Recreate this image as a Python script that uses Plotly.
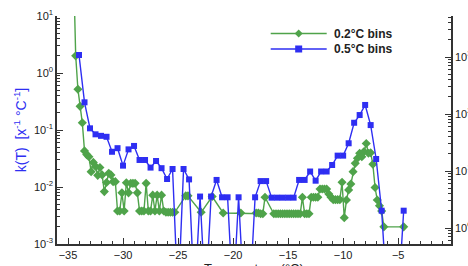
import numpy as np
import plotly.graph_objects as go

# 0.5 degC bins (blue squares); empty bins are drawn at a floor value below the axis
blue_T = [-34.0, -33.5, -33.0, -32.5, -32.0, -31.5, -31.0, -30.5, -30.0, -29.5,
          -29.0, -28.5, -28.0, -27.5, -27.0, -26.5, -26.0, -25.5, -25.0, -24.5,
          -24.0, -23.5, -23.0, -22.5, -22.0, -21.5, -21.0, -20.5, -20.0, -19.5,
          -19.0, -18.5, -18.0, -17.5, -17.0, -16.5, -16.0, -15.5, -15.0, -14.5,
          -14.0, -13.5, -13.0, -12.5, -12.0, -11.5, -11.0, -10.5, -10.0, -9.5,
          -9.0, -8.5, -8.0, -7.5, -7.0, -6.5, -6.0, -5.5, -5.0, -4.5]
blue_k = [2.07, 0.306, 0.107, 0.084, 0.079, 0.076, 0.0415, 0.048, 0.0237, 0.0457,
          0.0525, 0.0298, 0.0298, 0.0219, 0.0286, 0.0214, 0.0138, 0.0207, 1e-4, 0.0207,
          0.0136, 1e-4, 0.0068, 1e-4, 0.0068, 0.0133, 0.0066, 0.0066, 1e-4, 0.0066,
          1e-4, 1e-4, 0.0066, 0.0127, 0.0127, 0.0065, 0.0065, 0.0065, 0.0065, 0.0065,
          0.0133, 0.0133, 0.0187, 0.0129, 0.0187, 0.0187, 0.0243, 0.0355, 0.0355, 0.0585,
          0.134, 0.183, 0.275, 0.122, 0.031, 0.00384, 1e-4, 1e-4, 1e-4, 0.00384]

# 0.2 degC bins (green diamonds); empty bins omitted
green_T = [-34.5, -34.3, -34.1, -33.9, -33.7, -33.5, -33.3, -33.1, -32.9, -32.7,
           -32.5, -32.3, -32.1, -31.9, -31.7, -31.5, -31.3, -31.1, -30.9, -30.7,
           -30.5, -30.3, -30.1, -29.9, -29.7, -29.5, -29.3, -29.1, -28.9, -28.7,
           -28.5, -28.3, -28.1, -27.9, -27.7, -27.5, -27.3, -27.1, -26.9, -26.7,
           -26.5, -26.3, -26.1, -25.9, -25.7, -25.5, -25.3, -24.3, -24.1, -22.9,
           -21.9, -20.9, -19.3, -17.9, -17.7, -17.5, -17.3, -17.1, -16.3, -16.1,
           -15.9, -15.7, -15.5, -15.3, -15.1, -14.9, -14.7, -14.5, -14.3, -14.1,
           -13.9, -13.7, -13.5, -13.3, -13.1, -12.9, -12.7, -12.5, -12.3, -12.1,
           -11.9, -11.7, -11.5, -11.3, -11.1, -10.9, -10.7, -10.5, -10.3, -10.1,
           -9.9, -9.7, -9.5, -9.3, -9.1, -8.9, -8.7, -8.5, -8.3, -8.1,
           -7.9, -7.7, -7.5, -7.3, -7.1, -6.9, -6.7, -6.5, -6.3, -4.5]
green_k = [70, 2.0, 0.52, 0.26, 0.134, 0.043, 0.037, 0.034, 0.0186, 0.027,
           0.023, 0.016, 0.022, 0.0163, 0.0083, 0.012, 0.0174, 0.0163, 0.0124, 0.0124,
           0.0038, 0.0038, 0.0079, 0.0038, 0.0119, 0.0079, 0.0116, 0.0116, 0.0116, 0.0079,
           0.0038, 0.0038, 0.0038, 0.0116, 0.0038, 0.0038, 0.0072, 0.0038, 0.0072, 0.0038,
           0.0072, 0.0038, 0.0036, 0.0036, 0.0036, 0.0036, 0.0036, 0.0070, 0.0070, 0.0036,
           0.0068, 0.0035, 0.0035, 0.0035, 0.0035, 0.0034, 0.0034, 0.0066, 0.0034, 0.0034,
           0.0034, 0.0034, 0.0034, 0.0034, 0.0034, 0.0034, 0.0034, 0.0034, 0.0034, 0.0034,
           0.0034, 0.0066, 0.0034, 0.0034, 0.0034, 0.0066, 0.0066, 0.0066, 0.0066, 0.0092,
           0.0092, 0.0092, 0.0092, 0.0075, 0.0066, 0.0060, 0.0060, 0.0060, 0.0060, 0.0121,
           0.0029, 0.0059, 0.0089, 0.0113, 0.0186, 0.026, 0.032, 0.039, 0.034, 0.042,
           0.058, 0.039, 0.040, 0.025, 0.0098, 0.0059, 0.0047, 0.0038, 0.0020, 0.0020]

x_ticks = [-35, -30, -25, -20, -15, -10, -5]
left_exp = [-3, -2, -1, 0, 1]
right_exp = [0, 1, 2, 3]
legend_names = ["0.2°C bins", "0.5°C bins"]
x_title = "Temperature (°C)"
y_title = "k(T)  [x<sup>-1</sup> °C<sup>-1</sup>]"

GREEN = "#4fa34a"
BLUE = "#2e2ef2"
AX = "#333333"
FONT = "Liberation Sans, Arial, sans-serif"

fig = go.Figure()
fig.add_trace(go.Scatter(x=green_T, y=green_k, mode="lines+markers", name=legend_names[0],
                         line=dict(color=GREEN, width=1.4),
                         marker=dict(symbol="diamond", size=7, color=GREEN)))
fig.add_trace(go.Scatter(x=blue_T, y=blue_k, mode="lines+markers", name=legend_names[1],
                         line=dict(color=BLUE, width=1.4),
                         marker=dict(symbol="square", size=6, color=BLUE)))

def minor_vals(lo, hi):
    out = []
    for e in range(lo, hi):
        for m in range(2, 10):
            out.append(m * 10.0 ** e)
    return out

fig.update_layout(
    width=468, height=266,
    margin=dict(l=57, r=17, t=16, b=22, autoexpand=False),
    paper_bgcolor="white", plot_bgcolor="white",
    showlegend=False,
    font=dict(family=FONT, size=11, color="#222222"),
    xaxis=dict(range=[-36, -0.2], tickvals=x_ticks, ticks="inside", ticklen=6,
               tickcolor=AX, tickwidth=1.2, showline=True, linecolor=AX, linewidth=1.5,
               showgrid=False, zeroline=False, automargin=False,
               minor=dict(dtick=1, ticks="inside", ticklen=3, tickcolor=AX, showgrid=False)),
    yaxis=dict(type="log", range=[-3, 1], tickvals=[10.0 ** e for e in left_exp],
               ticktext=["10<sup>%d</sup>" % e for e in left_exp],
               ticks="inside", ticklen=6, tickcolor=AX, tickwidth=1.2,
               showline=True, linecolor=AX, linewidth=1.5, showgrid=False, zeroline=False,
               automargin=False,
               minor=dict(tickvals=minor_vals(-3, 1), ticks="inside", ticklen=3, tickcolor=AX, showgrid=False),
               title=dict(text=y_title, font=dict(size=14, color=BLUE), standoff=4)),
    yaxis2=dict(type="log", range=[-0.28, 3.72], overlaying="y", side="right", anchor="x",
                tickvals=[10.0 ** e for e in right_exp],
                ticktext=["10<sup>%d</sup>" % e for e in right_exp],
                ticks="inside", ticklen=6, tickcolor=AX, tickwidth=1.2,
                showline=True, linecolor=AX, linewidth=1.5, showgrid=False, zeroline=False,
                automargin=False,
                minor=dict(tickvals=minor_vals(-1, 4), ticks="inside", ticklen=3, tickcolor=AX, showgrid=False)),
)
# dummy trace so the right axis is drawn
fig.add_trace(go.Scatter(x=[None], y=[None], yaxis="y2", showlegend=False, hoverinfo="skip"))

# x-axis title, partly below the bottom edge as in the original
fig.add_annotation(xref="paper", yref="paper", x=0.5, y=-0.066, yanchor="top", xanchor="center",
                   text=x_title, showarrow=False, font=dict(size=13, color="#222222"))

# hand-drawn legend (long sample lines as in the original)
leg_x0, leg_x1, leg_xm, leg_xt = 0.5424, 0.6845, 0.6134, 0.6992
leg_y = [0.9232, 0.8553]
colors = [GREEN, BLUE]
for i in range(2):
    fig.add_shape(type="line", xref="paper", yref="paper", x0=leg_x0, x1=leg_x1,
                  y0=leg_y[i], y1=leg_y[i], line=dict(color=colors[i], width=1.4))
    fig.add_annotation(xref="paper", yref="paper", x=leg_xt, y=leg_y[i], text="<b>%s</b>" % legend_names[i],
                       showarrow=False, xanchor="left", yanchor="middle",
                       font=dict(size=12, color="#222222"))
fig.add_shape(type="path", xref="paper", yref="paper", xsizemode="pixel", ysizemode="pixel",
              xanchor=leg_xm, yanchor=leg_y[0], path="M 0 4 L 4 0 L 0 -4 L -4 0 Z",
              fillcolor=GREEN, line=dict(color=GREEN, width=0))
fig.add_shape(type="rect", xref="paper", yref="paper", xsizemode="pixel", ysizemode="pixel",
              xanchor=leg_xm, yanchor=leg_y[1], x0=-3.5, x1=3.5, y0=-3.5, y1=3.5,
              fillcolor=BLUE, line=dict(color=BLUE, width=0))

fig.write_html("out.html")
